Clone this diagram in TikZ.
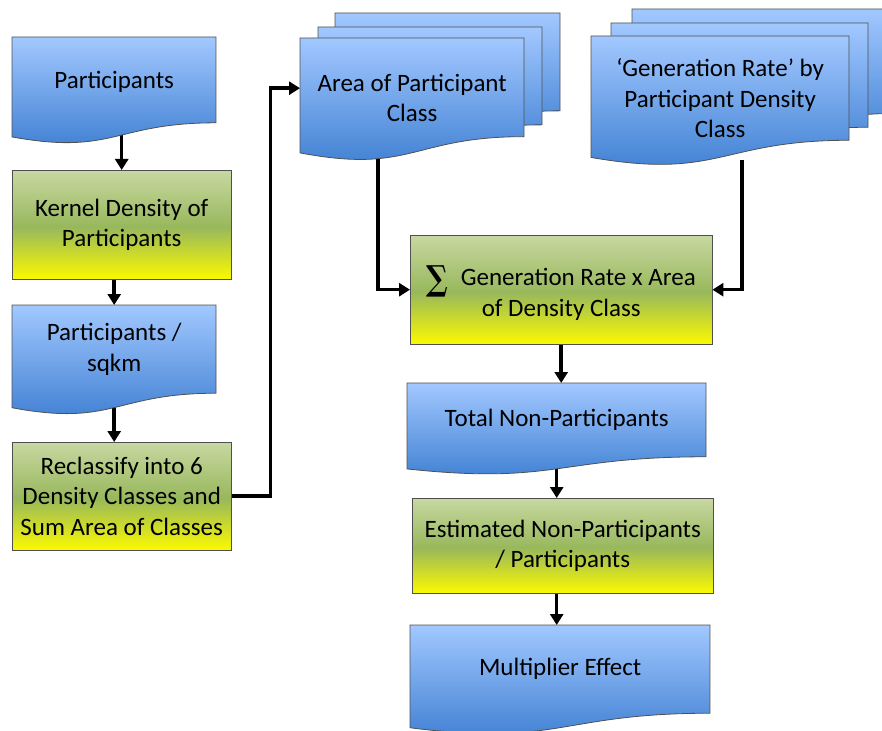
\documentclass[tikz,border=0pt]{standalone}
\usepackage{fontspec}
\setmainfont{Carlito}
\newfontfamily\sigmafont{DejaVu Serif}
\usepackage{graphicx}
\usetikzlibrary{arrows.meta}
\pgfdeclarelayer{conn}
\pgfdeclarelayer{shapes}
\pgfsetlayers{conn,shapes,main}
\definecolor{bluetop}{RGB}{162,200,255}
\definecolor{bluebot}{RGB}{58,124,208}
\definecolor{grtop}{RGB}{200,216,162}
\definecolor{grmid}{RGB}{152,184,92}
\definecolor{grbot}{RGB}{252,250,0}
\definecolor{edgecol}{RGB}{80,80,80}
\pgfdeclareverticalshading{greenshade}{100bp}{%
  color(0bp)=(grbot); color(25bp)=(grbot); color(49bp)=(grmid);
  color(75bp)=(grtop); color(100bp)=(grtop)}
\tikzset{
  docshade/.style={draw=edgecol, line width=0.8pt, top color=bluetop, bottom color=bluebot},
  procshade/.style={draw=edgecol, line width=0.8pt, shading=greenshade},
  lbl/.style={draw=none, inner sep=0pt, anchor=north west, align=center, font=\fontsize{25}{30.5}\selectfont},
  arr/.style={line width=3.5pt, -{Triangle[width=13pt,length=11pt]}},
}
% document shape: x1, y1 (top), x2, h (total height incl. wave)
\newcommand\docshape[4]{%
  \shade[docshade] (#1,#2) -- (#3,#2) -- (#3,{#2+0.802*#4})
    .. controls ({(#1+#3)/2},{#2+0.802*#4}) and ({(#1+#3)/2},{#2+1.1075*#4}) ..
    (#1,{#2+0.934*#4}) -- cycle;}
\newcommand\bigsigma{\smash{\raisebox{-5pt}{\scalebox{1.15}[1.38]{\sigmafont\bfseries ∑}}}}
\begin{document}
\begin{tikzpicture}[x=1pt,y=-1pt]
\useasboundingbox (0,0) rectangle (882,730);

% text nodes (invisible frames)
\node[lbl, minimum width=204pt, minimum height=90pt] (p) at (12,37) {Participants};
\node[lbl, minimum width=219pt, minimum height=109pt] (k) at (12,170) {Kernel Density of\\Participants};
\node[lbl, minimum width=204pt, minimum height=88pt] (s) at (12,305) {Participants /\\sqkm};
\node[lbl, minimum width=219pt, minimum height=108pt] (rc) at (12,442) {Reclassify into 6\\Density Classes and\\Sum Area of Classes};
\node[lbl, minimum width=224pt, minimum height=119pt] (area) at (300,38) {Area of Participant\\Class};
\node[lbl, minimum width=258pt, minimum height=124pt] (gen) at (591,36) {‘Generation Rate’ by\\Participant Density\\Class};
\node[lbl, minimum width=302pt, minimum height=109pt] (sum) at (410,235) {\rule{0pt}{27pt}\bigsigma\enspace Generation Rate x Area\\of Density Class};
\node[lbl, minimum width=299pt, minimum height=74pt] (tot) at (407,383) {Total Non-Participants};
\node[lbl, minimum width=301pt, minimum height=95pt] (est) at (412,498) {Estimated Non-Participants\\/ Participants};
\node[lbl, minimum width=300pt, minimum height=88pt] (mult) at (410,625) {Multiplier Effect};

\begin{pgfonlayer}{shapes}
  % stacks
  \docshape{335}{13}{560}{122}
  \docshape{318}{27}{542}{122}
  \docshape{300}{38}{524}{123}
  \docshape{632}{9}{905}{130}
  \docshape{611}{23}{868}{130}
  \docshape{591}{36}{849}{130}
  % single documents
  \docshape{12}{37}{216}{107}
  \docshape{12}{305}{216}{110}
  \docshape{407}{383}{706}{92}
  \docshape{410}{625}{710}{110}
  % process boxes
  \shade[procshade] (k.north west) rectangle (k.south east);
  \shade[procshade] (rc.north west) rectangle (rc.south east);
  \shade[procshade] (sum.north west) rectangle (sum.south east);
  \shade[procshade] (est.north west) rectangle (est.south east);
\end{pgfonlayer}

\begin{pgfonlayer}{conn}
  \draw[arr] (p.south -| k.north) -- (k.north);
  \draw[arr] (k.south -| s.north) -- (s.north);
  \draw[arr] (s.south) -- (s.south |- rc.north);
  \draw[arr] (rc.east) -- ++(39,0) |- ([yshift=9.5pt]area.west);
  \draw[arr] ([xshift=-34pt]area.south) |- (sum.west);
  \draw[arr] ([xshift=22pt]gen.south) |- (sum.east);
  \draw[arr] (sum.south) -- (sum.south |- tot.north);
  \draw[arr] (tot.south) -- (tot.south |- est.north);
  \draw[arr] (tot.south |- est.south) -- (tot.south |- mult.north);
\end{pgfonlayer}
\end{tikzpicture}
\end{document}
